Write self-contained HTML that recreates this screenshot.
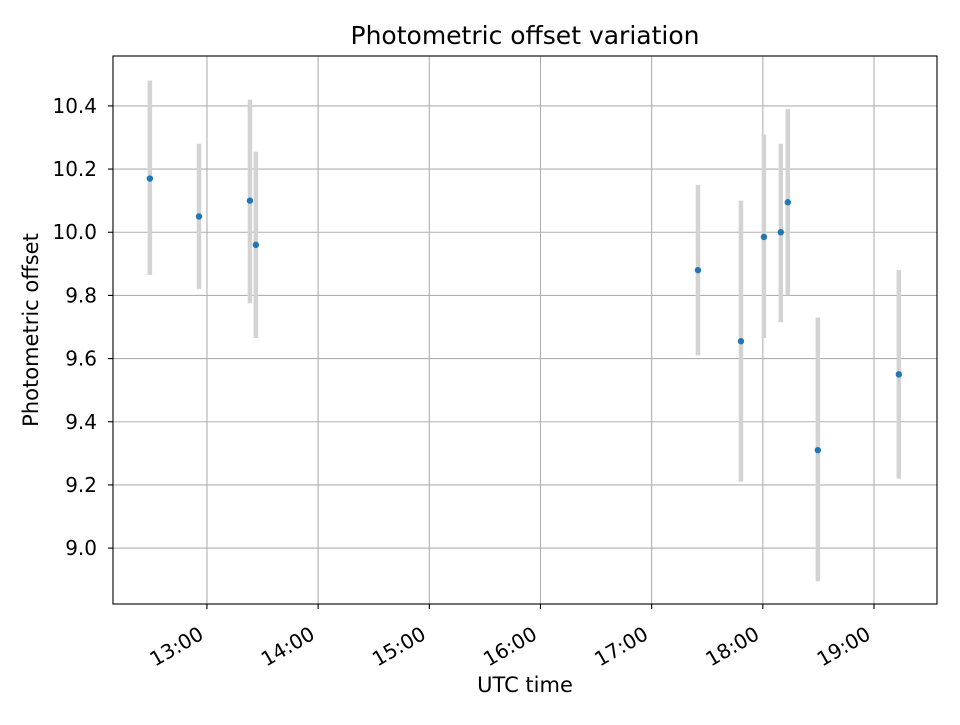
<!DOCTYPE html>
<html><head><meta charset="utf-8"><style>
html,body{margin:0;padding:0;background:#fff;}
svg text{font-family:"DejaVu Sans","Liberation Sans",sans-serif;fill:#000;}
</style></head><body>
<svg id="chart" width="960" height="720" viewBox="0 0 960 720" xmlns="http://www.w3.org/2000/svg">
<rect x="0" y="0" width="960" height="720" fill="#fff"/>
<g id="grid"></g><g id="bars"></g><g id="pts"></g><g id="axes"></g>
<text x="525" y="44" style="font-size:25px" text-anchor="middle">Photometric offset variation</text>
<text x="525" y="692" style="font-size:21px" text-anchor="middle">UTC time</text>
<text transform="translate(38,330) rotate(-90)" style="font-size:21px" text-anchor="middle">Photometric offset</text>
</svg>
<script>
// times in minutes since midnight UTC
const times = [749.2, 775.7, 803.2, 806.4, 1045, 1068.2, 1080.6, 1089.7, 1093.5, 1109.7, 1153.4];
const offsets = [10.17, 10.05, 10.10, 9.96, 9.88, 9.655, 9.985, 10.0, 10.095, 9.31, 9.55];
const upper = [10.48, 10.28, 10.42, 10.255, 10.15, 10.10, 10.31, 10.28, 10.39, 9.73, 9.88];
const lower = [9.865, 9.82, 9.775, 9.665, 9.61, 9.21, 9.665, 9.715, 9.80, 8.895, 9.22];
const xTicks = [780, 840, 900, 960, 1020, 1080, 1140];
const xTickLabels = ["13:00","14:00","15:00","16:00","17:00","18:00","19:00"];
const yTicks = [9.0, 9.2, 9.4, 9.6, 9.8, 10.0, 10.2, 10.4];

const L=113,R=937,T=56,B=604;
const xMin=729.3,xMax=1174,yMin=8.823,yMax=10.558;
const xs=v=>L+(v-xMin)/(xMax-xMin)*(R-L);
const ys=v=>B-(v-yMin)/(yMax-yMin)*(B-T);
const NS="http://www.w3.org/2000/svg";
function mk(tag,attrs,parent){const e=document.createElementNS(NS,tag);for(const k in attrs)e.setAttribute(k,attrs[k]);parent.appendChild(e);return e;}
const grid=document.getElementById('grid'),bars=document.getElementById('bars'),pts=document.getElementById('pts'),axes=document.getElementById('axes');

xTicks.forEach((t,i)=>{
  const x=xs(t);
  const g=mk('line',{x1:x,x2:x,y1:T,y2:B,stroke:'#b0b0b0','stroke-width':1.1},grid);
  
  
  const tk=mk('line',{x1:x,x2:x,y1:B,y2:B+5,stroke:'#000','stroke-width':1.1},axes);
  
  
  const lb=mk('text',{x:0,y:0,style:'font-size:20px','text-anchor':'end',transform:`translate(${x-2},${B+34}) rotate(-30)`},axes);
  lb.textContent=xTickLabels[i];
  
  
});
yTicks.forEach(t=>{
  const y=ys(t);
  const g=mk('line',{x1:L,x2:R,y1:y,y2:y,stroke:'#b0b0b0','stroke-width':1.1},grid);
  
  
  const tk=mk('line',{x1:L-5,x2:L,y1:y,y2:y,stroke:'#000','stroke-width':1.1},axes);
  
  
  const lb=mk('text',{x:L-16,y:y+7,style:'font-size:20px','text-anchor':'end'},axes);
  lb.textContent=t.toFixed(1);
  
  
});
const frame=mk('rect',{x:L,y:T,width:R-L,height:B-T,fill:'none',stroke:'#000','stroke-width':1.1},axes);



times.forEach((t,i)=>{
  const x=xs(t);
  const b=mk('line',{x1:x,x2:x,y1:ys(upper[i]),y2:ys(lower[i]),stroke:'#d3d3d3','stroke-width':4.5},bars);
  
  
  const p=mk('circle',{cx:x,cy:ys(offsets[i]),r:3.2,fill:'#1f77b4'},pts);
  
  
});
</script>
</body></html>
